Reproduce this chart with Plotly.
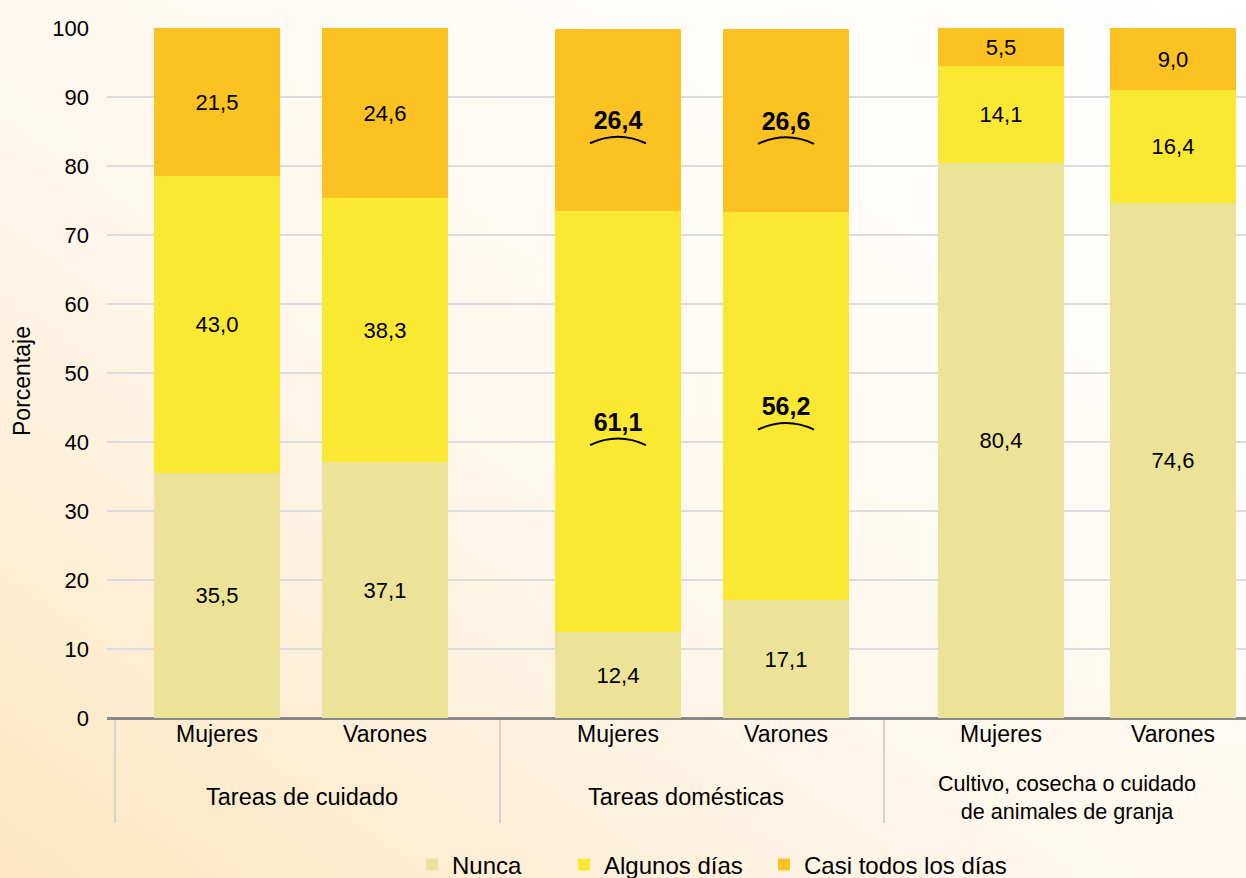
import base64
import plotly.graph_objects as go

# ---------------- data ----------------
groups = ["Tareas de cuidado", "Tareas domésticas",
          "Cultivo, cosecha o cuidado<br>de animales de granja"]
sexes = ["Mujeres", "Varones"]
series_names = ["Nunca", "Algunos días", "Casi todos los días"]
nunca = [35.5, 37.1, 12.4, 17.1, 80.4, 74.6]
algunos = [43.0, 38.3, 61.1, 56.2, 14.1, 16.4]
casi = [21.5, 24.6, 26.4, 26.6, 5.5, 9.0]
highlight_group = 1  # "Tareas domésticas": bold labels for Algunos / Casi
y_ticks = [0, 10, 20, 30, 40, 50, 60, 70, 80, 90, 100]

# ---------------- layout constants ----------------
W, H = 1246, 878
ML, MR, MT, MB = 107, 0, 28, 160
group_centers = [301, 702, 1087]      # x-axis units (== pixels)
sub_offsets = [84, 84, 86]
bar_width = 126
dividers = [115, 500, 884]
group_label_dx = [-6, -6, 2]
group_label_size = [23.5, 23.5, 21.6]
legend_left_px = [412, 564, 764]
colors = ["#ECE398", "#FAE833", "#FBC222"]
font_family = "Liberation Sans, Arial, Helvetica, sans-serif"

xpos = []
xlab = []
for g, c in enumerate(group_centers):
    for s, lab in enumerate(sexes):
        xpos.append(c + (s * 2 - 1) * sub_offsets[g])
        xlab.append(lab)

def fmt(v):
    return f"{v:.1f}".replace(".", ",")

pw, ph = W - ML - MR, H - MT - MB

fig = go.Figure()
all_series = [nunca, algunos, casi]
legend_ids = ["legend", "legend2", "legend3"]
for k, (name, vals) in enumerate(zip(series_names, all_series)):
    texts = []
    for i, v in enumerate(vals):
        bold = (k > 0 and i // 2 == highlight_group)
        texts.append(f"<b><span style='font-size:25px'>{fmt(v)}</span></b>" if bold else fmt(v))
    fig.add_trace(go.Bar(
        x=xpos, y=vals, name=name, width=bar_width,
        marker=dict(color=colors[k], line=dict(width=0)),
        text=texts, textposition="inside", insidetextanchor="middle",
        textangle=0, textfont=dict(size=22, color="black", family=font_family),
        hoverinfo="skip", legend=legend_ids[k], showlegend=True,
    ))

shapes = []
# arcs under bold labels
for k in (1, 2):
    for i in range(len(xpos)):
        if i // 2 != highlight_group:
            continue
        base = sum(all_series[j][i] for j in range(k))
        yc = base + all_series[k][i] / 2
        x0, x1 = xpos[i] - 28, xpos[i] + 28
        y0 = yc - 3.4
        ctrl = y0 + 1.9
        shapes.append(dict(type="path", xref="x", yref="y",
                           path=f"M {x0},{y0} Q {xpos[i]},{ctrl} {x1},{y0}",
                           line=dict(color="black", width=2)))
# group dividers below the axis
for d in dividers:
    shapes.append(dict(type="line", xref="x", yref="paper", x0=d, x1=d,
                       y0=0, y1=-(823 - 718) / ph,
                       line=dict(color="#D3D3D3", width=2), layer="below"))

annotations = []
for g, c in enumerate(group_centers):
    lo = dividers[g]
    hi = dividers[g + 1] if g + 1 < len(dividers) else W - MR
    annotations.append(dict(x=(lo + hi) / 2 + group_label_dx[g], xref="x", y=0, yref="paper",
                            yshift=-(797 - 718),
                            text=groups[g], showarrow=False, yanchor="middle",
                            font=dict(size=group_label_size[g], color="black",
                                      family=font_family)))
annotations.append(dict(x=0, xref="paper", xshift=-100, y=0.5, yref="paper",
                        yshift=-8, text="Porcentaje", textangle=-90, showarrow=False,
                        font=dict(size=23, color="black", family=font_family)))

svg = (f'<svg xmlns="http://www.w3.org/2000/svg" width="{W}" height="{H}">'
       '<defs><linearGradient id="g" x1="0" y1="1" x2="1" y2="0">'
       '<stop offset="0" stop-color="#FDE6C0"/>'
       '<stop offset="0.4" stop-color="#FEF6EA"/>'
       '<stop offset="0.75" stop-color="#FFFDFA"/>'
       '<stop offset="1" stop-color="#FFFFFF"/>'
       '</linearGradient></defs>'
       '<rect width="100%" height="100%" fill="url(#g)"/></svg>')
src = "data:image/svg+xml;base64," + base64.b64encode(svg.encode()).decode()

legend_common = dict(orientation="h", xanchor="left", y=-(865 - 718) / ph,
                     yanchor="middle", font=dict(size=24, color="black"),
                     bgcolor="rgba(0,0,0,0)", visible=True)
legends = {}
for k, lid in enumerate(legend_ids):
    legends[lid] = dict(x=(legend_left_px[k] - ML) / pw, **legend_common)

fig.update_layout(
    width=W, height=H, showlegend=True,
    margin=dict(l=ML, r=MR, t=MT, b=MB, autoexpand=False),
    barmode="stack", bargap=0,
    paper_bgcolor="white", plot_bgcolor="rgba(0,0,0,0)",
    font=dict(family=font_family, color="black"),
    images=[dict(source=src, xref="paper", yref="paper",
                 x=-ML / pw, y=1 + MT / ph, sizex=W / pw, sizey=H / ph,
                 xanchor="left", yanchor="top", sizing="stretch", layer="below")],
    xaxis=dict(range=[ML, W - MR], tickvals=xpos, ticktext=xlab,
               tickfont=dict(size=23, color="black"), showgrid=False,
               zeroline=False, showline=False, ticks="", fixedrange=True),
    yaxis=dict(range=[0, 100], tickvals=y_ticks, tickfont=dict(size=22, color="black"),
               showgrid=True, gridcolor="#DCDCDC", gridwidth=1.5,
               zeroline=True, zerolinecolor="#888888", zerolinewidth=2.5,
               ticks="", ticklabelstandoff=17, fixedrange=True),
    shapes=shapes, annotations=annotations,
    **legends,
)

fig.write_html("out.html", config={"displayModeBar": False},
               post_script="document.body.style.margin='0';document.body.style.overflow='hidden';")
